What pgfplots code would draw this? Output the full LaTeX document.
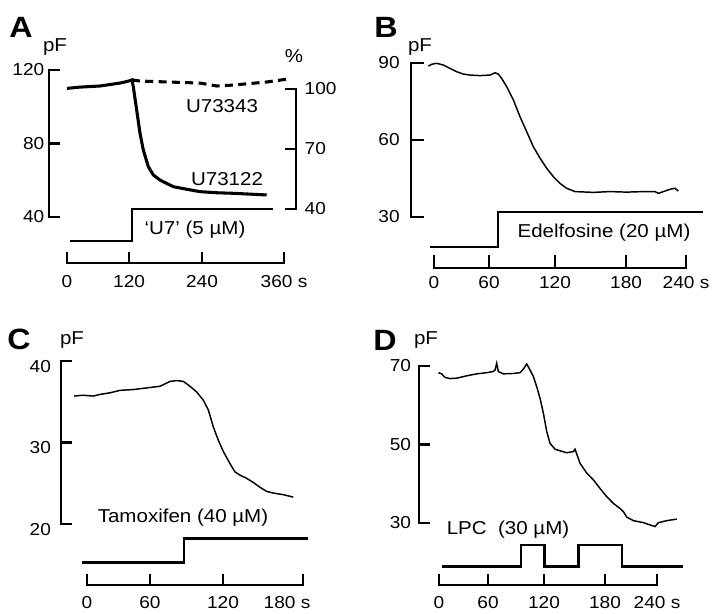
\documentclass[border=0pt]{standalone}
\usepackage{fontspec}
\setmainfont{Liberation Sans}[FakeStretch=1.1]
\usepackage{pgfplots}
\pgfplotsset{compat=1.18}

\pgfplotsset{
  trace panel/.style={
    scale only axis, anchor=south west, clip=false,
    axis x line*=bottom, axis y line*=left,
    axis line style={-},
    tick align=inside, major tick length=8pt,
    tick style={black, line width=1.7pt},
    /pgf/number format/assume math mode=true,
    tick label style={font=\fontsize{13}{15}\selectfont},
  },
  stim/.style={const plot, line width=1.8pt},
}
\tikzset{sbar/.style={draw=black, line width=2.1pt, line cap=rect}}
\newcommand{\lab}{\fontsize{14}{16}\selectfont}
\newcommand{\pan}{\fontsize{22}{24}\selectfont\bfseries}

\begin{document}
\begin{tikzpicture}
\begin{scope}[x=0.75pt,y=-0.75pt]
\useasboundingbox (0,0) rectangle (716,612);
\end{scope}

% ---------- A ----------
\begin{axis}[trace panel, at={(50.25pt,-162.75pt)}, width=162.75pt, height=110.25pt,
  xmin=0, xmax=360, ymin=40, ymax=120, major tick length=8.5pt,
  axis x line shift=34.5pt, axis y line shift=13.5pt,
  xtick={0,103,224,360}, xticklabels={0,120,240,{360 s}},
  ytick={40,80,120}, yticklabels={40,80,120},
  xticklabel style={yshift=-6pt}]
\addplot[sbar] coordinates {(-29.9,40)(-29.9,120)};
\addplot[sbar] coordinates {(0,14.97)(360,14.97)};
\addplot[line width=2.3pt] coordinates {
  (0,110.0)(21.6,110.7)(54.7,111.3)(87.9,112.9)(100,113.8)(107.8,114.6)
  (110,110.9)(115.6,98.2)(121.1,85.6)(126.6,76.5)(134.9,67.4)(143.2,62.9)
  (154.3,60.1)(176.4,56.5)(198.6,55.1)(220.6,53.8)(248.4,53.2)(275.9,52.9)(331.3,52.0)};
\addplot[line width=2.3pt, dash pattern=on 6pt off 4pt] coordinates {
  (107.8,114.6)(121.1,114.0)(165.9,113.5)(220.6,112.9)(248.9,111.3)
  (275.4,111.8)(331.8,113.5)(366.6,115.1)};
\addplot[stim] coordinates {(5,26.9)(107.8,44.4)(341.8,44.4)};
\end{axis}
\begin{axis}[trace panel, at={(50.25pt,-156.75pt)}, width=162.75pt, height=90pt,
  xmin=0, xmax=360, ymin=40, ymax=100,
  axis x line=none, axis y line*=right, axis y line shift=9pt,
  ytick={40,70,100}, yticklabels={40,70,100}, xtick=\empty,
  yticklabel style={xshift=3pt}]
\addplot[sbar] coordinates {(379.9,40)(379.9,100)};
\end{axis}

% ---------- B ----------
\begin{axis}[trace panel, at={(325.5pt,-162.75pt)}, width=189pt, height=115.5pt,
  xmin=0, xmax=240, ymin=30, ymax=90, major tick length=10pt,
  axis x line shift=38.25pt, axis y line shift=17.25pt,
  xtick={0,52.4,115.2,182.9,240}, xticklabels={0,60,120,180,{240 s}},
  ytick={30,60,90}, yticklabels={30,60,90},
  xticklabel style={yshift=-2.5pt}, yticklabel style={xshift=-5pt}]
\addplot[sbar] coordinates {(-21.9,30)(-21.9,90)};
\addplot[sbar] coordinates {(0,10.13)(240,10.13)};
\addplot[line width=1.1pt] coordinates {
  (-5.4,88.8)(-2.2,89.5)(2.5,89.9)(8.9,89.2)(15.2,87.9)(21.6,86.6)(27.9,85.7)
  (34.3,85.3)(43.8,85.1)(53.3,85.3)(58.1,86.2)(61.3,85.7)(64.4,84.0)(69.2,80.8)
  (75.6,75.6)(81.9,69.1)(88.3,63.2)(94.6,57.4)(101,52.9)(107.3,49.0)(113.7,45.7)
  (120,43.1)(126.3,41.2)(134.3,39.9)(151.7,39.6)(167.6,39.9)(183.5,39.7)
  (199.3,39.9)(210.5,39.9)(213.7,39.2)(218.4,39.9)(224.8,40.8)(229.5,41.2)(232.7,40.1)};
\addplot[stim] coordinates {(-3.8,18.3)(61,32.0)(256.2,32.0)};
\end{axis}

% ---------- C ----------
\begin{axis}[trace panel, at={(65.25pt,-393pt)}, width=162pt, height=122.25pt,
  xmin=0, xmax=180, ymin=20, ymax=40,
  axis x line shift=45.75pt, axis y line shift=19.5pt,
  xtick={0,52.5,113.3,180}, xticklabels={0,60,120,{}},
  ytick={20,30,40}, yticklabels={20,30,40},
  xticklabel style={yshift=-5pt}, yticklabel style={xshift=-4pt, yshift=-4pt}]
\addplot[sbar] coordinates {(-21.67,20)(-21.67,40)};
\addplot[sbar] coordinates {(0,12.52)(180,12.52)};
\addplot[line width=1.1pt] coordinates {
  (-10.8,35.7)(-3.1,35.8)(5.3,35.7)(10.8,35.9)(19.2,36.1)(27.5,36.4)(38.6,36.5)
  (49.7,36.7)(60.8,36.9)(69.2,37.5)(74.7,37.6)(80.3,37.5)(85.8,36.9)(91.4,36.2)
  (96.9,35.2)(101.1,34.0)(105.3,31.9)(109.4,30.3)(113.6,28.9)(119.2,27.4)
  (123.3,26.4)(127.5,26.0)(133.1,25.6)(138.6,25.1)(144.2,24.5)(149.7,24.0)
  (155.3,23.8)(163.6,23.6)(171.9,23.3)};
\addplot[stim] coordinates {(-4.2,15.3)(80.8,18.2)(184.2,18.2)};
\end{axis}

% ---------- D ----------
\begin{axis}[trace panel, at={(329.25pt,-392.25pt)}, width=163.5pt, height=117.75pt,
  xmin=0, xmax=240, ymin=30, ymax=70,
  axis x line shift=46.5pt, axis y line shift=15pt,
  xtick={0,54,115.6,182.7,240}, xticklabels={0,60,120,180,{240 s}},
  ytick={30,50,70}, yticklabels={30,50,70},
  xticklabel style={yshift=-5pt}, yticklabel style={xshift=-2.5pt}]
\addplot[sbar] coordinates {(-22.03,30)(-22.03,70)};
\addplot[sbar] coordinates {(0,14.2)(240,14.2)};
\addplot[line width=1.1pt] coordinates {
  (-0.7,68.3)(2.9,68.0)(6.6,67.1)(12.1,66.8)(19.5,66.9)(30.5,67.5)(41.5,68.0)
  (52.5,68.3)(59.8,68.6)(61.7,69.0)(63.5,70.7)(65.3,68.6)(70.8,68.0)(81.8,68.1)
  (89.2,68.3)(92.8,69.2)(96.6,70.5)(100.2,69.0)(103.9,67.3)(107.6,64.7)
  (111.2,61.8)(114.9,58.0)(118.6,53.3)(122.2,50.3)(127.8,48.8)(133.3,48.4)
  (140.6,47.9)(147.9,48.2)(149.8,48.8)(151.6,47.6)(155.3,45.2)(162.7,42.7)
  (169.9,41.0)(177.3,38.8)(184.7,36.7)(192.0,35.0)(199.3,33.7)(203.0,32.9)
  (206.7,31.5)(214.0,30.6)(225.0,30.1)(232.4,29.5)(237.9,29.1)(241.5,30.1)
  (250.8,30.6)(261.8,31.0)};
\addplot[stim] coordinates {
  (3.3,18.9)(90.3,24.4)(116,18.9)(153.4,24.4)(201.2,18.9)(269,18.9)};
\end{axis}

% ---------- labels ----------
\begin{scope}[x=0.75pt,y=-0.75pt]
\node[font=\pan] at (21,27) {A};
\node[font=\pan] at (386,27) {B};
\node[font=\pan] at (19,339) {C};
\node[font=\pan] at (385,340) {D};
\node[font=\lab] at (55,47) {pF};
\node[font=\lab] at (420,47) {pF};
\node[font=\lab] at (72,340) {pF};
\node[font=\lab] at (426,340) {pF};
\node[font=\lab] at (294,56) {\%};
\node[font=\lab] at (222,106) {U73343};
\node[font=\lab] at (227,179) {U73122};
\node[font=\lab] at (195,230) {`U7' (5 µM)};
\node[font=\lab] at (604,233) {Edelfosine (20 µM)};
\node[font=\lab] at (183,518) {Tamoxifen (40 µM)};
\node[font=\fontsize{13}{15}\selectfont] at (287,603) {180 s};
\node[font=\lab] at (508,530) {LPC\ \ (30 µM)};
\end{scope}
\end{tikzpicture}
\end{document}
